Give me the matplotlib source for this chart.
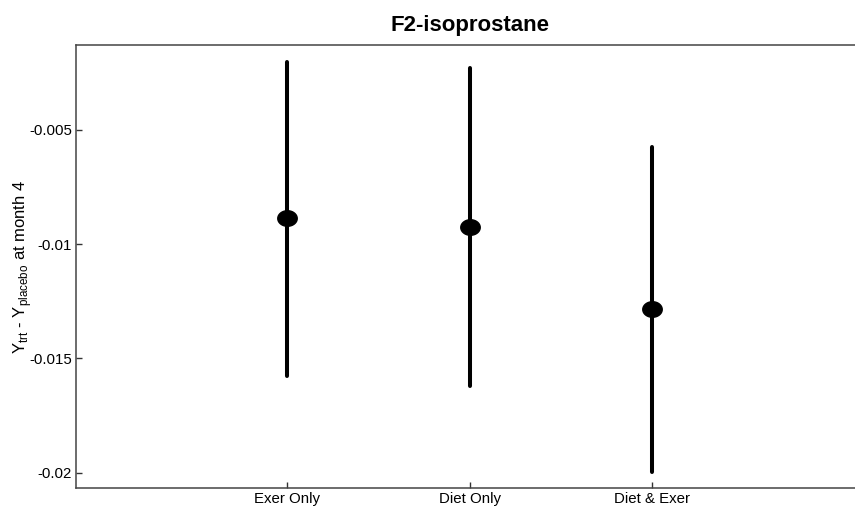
import numpy as np
import matplotlib
matplotlib.use('Agg')
import matplotlib.pyplot as plt
from matplotlib.path import Path

plt.rcParams['font.family'] = ['Liberation Sans', 'DejaVu Sans']
plt.rcParams['mathtext.fontset'] = 'custom'
plt.rcParams['mathtext.rm'] = 'Liberation Sans'

# estimates
groups = ['Exer Only', 'Diet Only', 'Diet & Exer']
estimate = [-0.00887, -0.00926, -0.01284]
ci_upper = [-0.00201, -0.00230, -0.00573]
ci_lower = [-0.01576, -0.01621, -0.01995]
yticks = [-0.02, -0.015, -0.01, -0.005]
ytick_labels = ['-0.02', '-0.015', '-0.01', '-0.005']

# slightly wide dot, like in the scanned figure
t = np.linspace(0, 2*np.pi, 60)
ellipse = Path(np.column_stack([np.cos(t), 0.8*np.sin(t)]), closed=True)

fig = plt.figure(figsize=(8.55, 5.07), dpi=100)
ax = fig.add_axes([76/855, 1 - 488/507, (863 - 76)/855, (488 - 45)/507])

x = np.arange(1, len(groups) + 1)
ax.vlines(x, ci_lower, ci_upper, color='black', lw=2.9, capstyle='round')
ax.plot(x, estimate, ls='none', marker=ellipse, color='black', ms=14, zorder=3)

ax.set_xlim(-0.156, 4.156)
ax.set_ylim(-0.02067, -0.00128)
ax.set_xticks(x)
ax.set_xticklabels(groups, fontsize=10.8)
ax.set_yticks(yticks)
ax.set_yticklabels(ytick_labels, fontsize=10.8)
ax.tick_params(direction='in', length=4, width=1, color='#333333', pad=3)

for s in ax.spines.values():
    s.set_color('#444444')
    s.set_linewidth(1.1)
ax.spines['right'].set_visible(False)

ax.set_ylabel(r'Y$_{\rm trt}$ - Y$_{\rm placebo}$ at month 4', fontsize=12)
ax.yaxis.set_label_coords(-0.054, 0.5)
ax.set_title('F2-isoprostane', fontsize=16, fontweight='bold', pad=10)

fig.savefig('out.png', dpi=100)
